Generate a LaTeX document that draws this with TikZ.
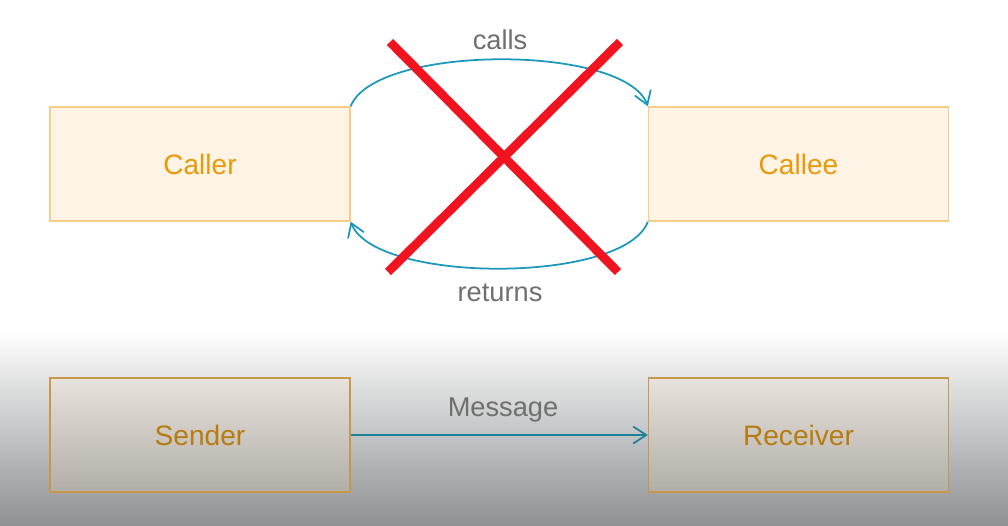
\documentclass[tikz,border=0pt]{standalone}
\usepackage{fontspec}
\setmainfont{Liberation Sans}
\usetikzlibrary{arrows.meta}
\definecolor{boxline}{HTML}{F6CC86}
\definecolor{boxfill}{HTML}{FEF3E4}
\definecolor{boxtext}{HTML}{E99A08}
\definecolor{lowline}{HTML}{C9974A}
\definecolor{lowtext}{HTML}{B87B0E}
\definecolor{arcblue}{HTML}{1C98BE}
\definecolor{msgblue}{HTML}{1E8198}
\definecolor{lbltext}{HTML}{6F6F6F}
\definecolor{crossred}{HTML}{F01420}
\definecolor{floorgray}{HTML}{8E9092}
\tikzset{
  upbox/.style={draw=boxline,fill=boxfill,line width=0.8pt,minimum width=6cm,
    minimum height=2.28cm,inner sep=0pt,text=boxtext,font=\fontsize{16}{19}\selectfont},
  lowbox/.style={draw=lowline,fill=boxline!60,fill opacity=0.18,text opacity=1,
    line width=0.8pt,minimum width=6cm,minimum height=2.28cm,inner sep=0pt,
    text=lowtext,font=\fontsize{16}{19}\selectfont},
  lbl/.style={text=lbltext,inner sep=0pt,font=\fontsize{15.5}{19}\selectfont},
  link/.style={draw=arcblue,line width=1pt,-{Straight Barb[length=2.6mm,width=3.4mm]}},
  cross/.style={draw=crossred,line width=5pt}
}
\begin{document}
\begin{tikzpicture}[x=0.02cm,y=-0.02cm]
  \useasboundingbox (0,0) rectangle (1008,526);
  % background
  \fill[white] (0,0) rectangle (1008,330);
  \shade[top color=white,bottom color=floorgray] (0,330) rectangle (1008,526);

  % boxes
  \node[upbox] (caller) at (200,164) {Caller};
  \node[upbox] (callee) at (798.5,164) {Callee};
  \node[lowbox] (sender) at (200,435) {Sender};
  \node[lowbox] (receiver) at (798.5,435) {Receiver};

  % calls and returns
  \draw[link] (caller.north east) .. controls (375,44) and (625,44) .. (callee.north west);
  \draw[link] (callee.south west) .. controls (625,284) and (375,284) .. (caller.south east);
  \node[lbl] (calls) at (500,40) {calls};
  \node[lbl] (returns) at (500,293) {returns};

  % red cross
  \coordinate (xa) at (390,42);
  \coordinate (xb) at (618,272);
  \coordinate (xc) at (620,42);
  \coordinate (xd) at (388,272);
  \draw[cross] (xa) -- (xb);
  \draw[cross] (xc) -- (xd);

  % message
  \draw[link,draw=msgblue] (sender) -- (receiver);
  \node[lbl] (message) at (503,410) {Message};
\end{tikzpicture}
\end{document}
